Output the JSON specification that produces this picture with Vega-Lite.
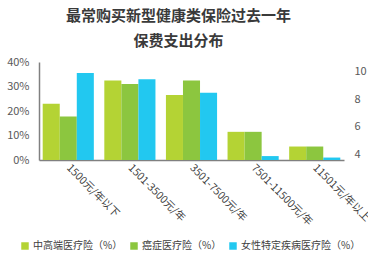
{
  "$schema": "https://vega.github.io/schema/vega-lite/v6.json",
  "width": 305,
  "height": 98,
  "autosize": {"type": "none"},
  "padding": {"left": 39, "top": 62, "right": 24, "bottom": 99},
  "background": "white",
  "config": {"view": {"stroke": null}, "font": "Noto Sans CJK SC"},
  "title": {
    "text": ["最常购买新型健康类保险过去一年", "保费支出分布"],
    "fontSize": 15,
    "fontWeight": "bold",
    "color": "#3a3a3a",
    "lineHeight": 25,
    "anchor": "middle",
    "dx": -13,
    "offset": 7,
    "font": "Noto Sans CJK SC"
  },
  "data": {
    "values": [
      {"range": "1500元/年以下", "series": "中高端医疗险（%）", "value": 23},
      {"range": "1500元/年以下", "series": "癌症医疗险（%）", "value": 17.8},
      {"range": "1500元/年以下", "series": "女性特定疾病医疗险（%）", "value": 35.5},
      {"range": "1501-3500元/年", "series": "中高端医疗险（%）", "value": 32.5},
      {"range": "1501-3500元/年", "series": "癌症医疗险（%）", "value": 31},
      {"range": "1501-3500元/年", "series": "女性特定疾病医疗险（%）", "value": 33},
      {"range": "3501-7500元/年", "series": "中高端医疗险（%）", "value": 26.5},
      {"range": "3501-7500元/年", "series": "癌症医疗险（%）", "value": 32.5},
      {"range": "3501-7500元/年", "series": "女性特定疾病医疗险（%）", "value": 27.5},
      {"range": "7501-11500元/年", "series": "中高端医疗险（%）", "value": 11.5},
      {"range": "7501-11500元/年", "series": "癌症医疗险（%）", "value": 11.5},
      {"range": "7501-11500元/年", "series": "女性特定疾病医疗险（%）", "value": 1.6},
      {"range": "11501元/年以上", "series": "中高端医疗险（%）", "value": 5.5},
      {"range": "11501元/年以上", "series": "癌症医疗险（%）", "value": 5.5},
      {"range": "11501元/年以上", "series": "女性特定疾病医疗险（%）", "value": 1}
    ]
  },
  "encoding": {
    "x": {
      "field": "range",
      "type": "nominal",
      "sort": null,
      "title": null,
      "scale": {"paddingInner": 0.17, "paddingOuter": 0.06},
      "axis": {
        "labelAngle": 45,
        "labelAlign": "left",
        "labelBaseline": "middle",
        "labelFontSize": 10.5,
        "labelColor": "#404040",
        "labelPadding": 6,
        "ticks": false,
        "domainColor": "#808080",
        "domainWidth": 1.5
      }
    },
    "xOffset": {
      "field": "series",
      "type": "nominal",
      "sort": ["中高端医疗险（%）", "癌症医疗险（%）", "女性特定疾病医疗险（%）"],
      "scale": {"paddingInner": 0, "paddingOuter": 0}
    }
  },
  "layer": [
    {
      "mark": {"type": "bar"},
      "encoding": {
        "y": {
          "field": "value",
          "type": "quantitative",
          "title": null,
          "scale": {"domain": [0, 40]},
          "axis": {
            "values": [0, 10, 20, 30, 40],
            "labelExpr": "datum.value + '%'",
            "labelFontSize": 11,
            "labelColor": "#595959",
            "labelPadding": 10,
            "ticks": false,
            "grid": false,
            "domainColor": "#808080",
            "domainWidth": 1.5
          }
        },
        "color": {
          "field": "series",
          "type": "nominal",
          "scale": {
            "domain": ["中高端医疗险（%）", "癌症医疗险（%）", "女性特定疾病医疗险（%）"],
            "range": ["#b4d334", "#8cc63f", "#22c8f0"]
          },
          "legend": {
            "title": null,
            "orient": "none",
            "direction": "horizontal",
            "legendX": -19,
            "legendY": 179,
            "symbolType": "square",
            "symbolSize": 56,
            "symbolStrokeWidth": 0,
            "labelFontSize": 10,
            "labelColor": "#404040",
            "columnPadding": 6,
            "labelOffset": 3
          }
        }
      }
    },
    {
      "mark": {"type": "bar", "opacity": 0, "clip": true},
      "encoding": {
        "y": {
          "field": "value",
          "type": "quantitative",
          "title": null,
          "scale": {"domain": [3.6, 10.7], "zero": false},
          "axis": {
            "orient": "right",
            "values": [4, 6, 8, 10],
            "labelFontSize": 11,
            "labelColor": "#595959",
            "labelPadding": 10,
            "labelAlign": "left",
            "ticks": false,
            "domain": false,
            "grid": false
          }
        }
      }
    }
  ],
  "resolve": {"scale": {"y": "independent"}}
}
